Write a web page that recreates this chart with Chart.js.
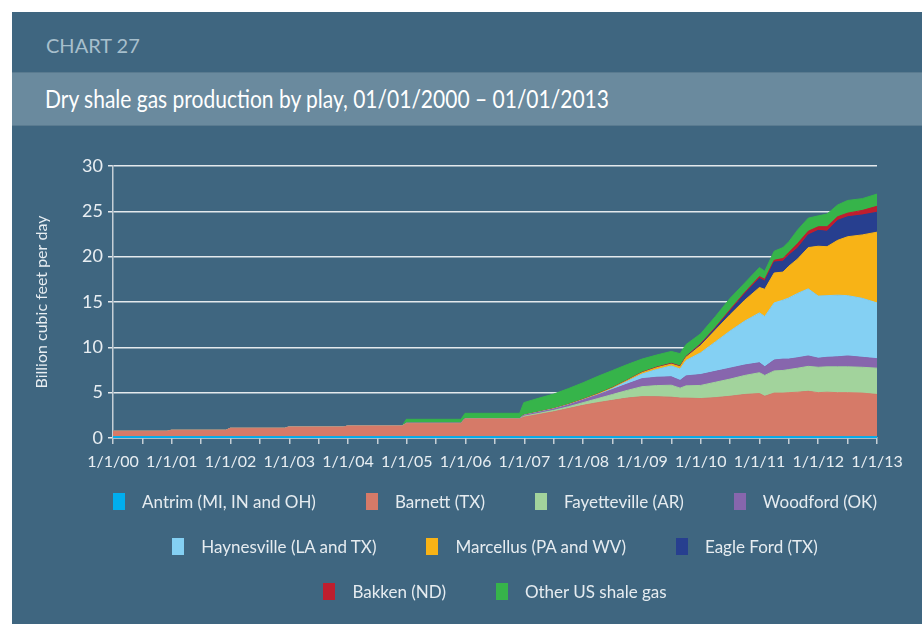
<!DOCTYPE html>
<html lang="en">
<head>
<meta charset="UTF-8">
<title>Chart 27</title>
<script src="https://cdn.jsdelivr.net/npm/chart.js@4"></script>
<style>
  body { margin: 0; background: #ffffff; font-family: Lato, "Open Sans", sans-serif; }
  #panel { position: absolute; left: 12px; top: 12px; width: 910px; height: 612px; background: #3f6680; overflow: hidden; }
  #chart-no { position: absolute; left: 34px; top: 21px; font-size: 20px; color: #a7bfcc; }
  #title-band { position: absolute; left: 0; top: 60px; width: 910px; height: 52px; background: #6a8a9e;
                border-top: 1px solid #5a7b90; border-bottom: 1px solid #5a7b90; }
  #title-band span { position: absolute; left: 33px; top: 10px; font-size: 25px; color: #ffffff;
                     white-space: nowrap; transform: scaleX(0.84); transform-origin: left center; }
  #chart-box { position: absolute; left: 0; top: 118px; width: 910px; height: 350px; }
  #legend { position: absolute; left: 0; top: 467px; width: 966px; }
  .row { display: flex; justify-content: center; height: 45px; align-items: center; }
  .item { display: flex; align-items: center; margin: 0 25px; font-size: 17px; color: #e6ecf0; }
  .swatch { width: 12px; height: 17px; margin-right: 17px; }
</style>
</head>
<body>
<div id="panel">
  <div id="chart-no">CHART 27</div>
  <div id="title-band"><span>Dry shale gas production by play, 01/01/2000 – 01/01/2013</span></div>
  <div id="chart-box"><canvas id="gas-chart"></canvas></div>
  <div id="legend"></div>
</div>
<script>
// years since 1/1/2000
var years = [0, 0.92, 0.99, 1.92, 1.99, 2.92, 2.99, 3.92, 3.99, 4.92, 4.99, 5.92, 5.99, 6.92, 6.99,
  7.25, 7.5, 7.75, 8.0, 8.25, 8.5, 8.75, 9.0, 9.25, 9.5, 9.65, 9.75, 10.0, 10.25, 10.5, 10.75,
  11.0, 11.09, 11.25, 11.4, 11.5, 11.65, 11.83, 12.0, 12.15, 12.33, 12.5, 12.75, 13.0];

var plays = ['Antrim (MI, IN and OH)', 'Barnett (TX)', 'Fayetteville (AR)', 'Woodford (OK)',
  'Haynesville (LA and TX)', 'Marcellus (PA and WV)', 'Eagle Ford (TX)', 'Bakken (ND)', 'Other US shale gas'];
var colors = ['#00aeef', '#d67a68', '#a2d39c', '#8766ad', '#84d0f3', '#f8b316', '#273f8f', '#bf1e2e', '#36b44a'];

// billion cubic feet per day
var antrim = [0.15, 0.15, 0.15, 0.15, 0.15, 0.15, 0.15, 0.15, 0.15, 0.15, 0.15, 0.15, 0.15, 0.15, 0.15,
  0.15, 0.15, 0.15, 0.15, 0.15, 0.15, 0.15, 0.15, 0.15, 0.15, 0.15, 0.15, 0.15, 0.15, 0.15, 0.15,
  0.15, 0.15, 0.15, 0.15, 0.15, 0.15, 0.15, 0.15, 0.15, 0.15, 0.15, 0.15, 0.15];
var barnett = [0.59, 0.59, 0.70, 0.70, 0.92, 0.92, 1.06, 1.06, 1.17, 1.17, 1.43, 1.43, 1.95, 1.95, 2.15,
  2.45, 2.75, 3.1, 3.45, 3.75, 4.0, 4.25, 4.41, 4.4, 4.35, 4.25, 4.25, 4.2, 4.3, 4.45, 4.65,
  4.75, 4.45, 4.8, 4.8, 4.85, 4.9, 5.0, 4.85, 4.9, 4.85, 4.85, 4.8, 4.65];
var fayetteville = [0, 0, 0, 0, 0, 0, 0, 0, 0, 0, 0, 0, 0, 0, 0.10,
  0.12, 0.15, 0.2, 0.3, 0.45, 0.65, 0.85, 1.1, 1.23, 1.32, 1.1, 1.35, 1.45, 1.7, 1.9, 2.1,
  2.3, 2.3, 2.45, 2.5, 2.55, 2.65, 2.75, 2.8, 2.8, 2.85, 2.85, 2.85, 2.9];
var woodford = [0, 0, 0, 0, 0, 0, 0, 0, 0, 0, 0.05, 0.05, 0.05, 0.05, 0.10,
  0.13, 0.15, 0.2, 0.3, 0.4, 0.55, 0.7, 0.88, 0.92, 0.93, 0.85, 1.1, 1.2, 1.2, 1.2, 1.15,
  1.1, 0.95, 1.2, 1.25, 1.15, 1.15, 1.15, 1.0, 1.05, 1.1, 1.2, 1.1, 1.05];
var haynesville = [0, 0, 0, 0, 0, 0, 0, 0, 0, 0, 0, 0, 0, 0, 0,
  0, 0, 0, 0, 0.02, 0.1, 0.3, 0.51, 0.85, 1.2, 1.25, 1.7, 2.4, 3.25, 4.1, 4.85,
  5.5, 5.55, 6.3, 6.5, 6.75, 7.1, 7.4, 6.85, 6.8, 6.8, 6.65, 6.5, 6.15];
var marcellus = [0, 0, 0, 0, 0, 0, 0, 0, 0, 0, 0, 0, 0, 0, 0.02,
  0.03, 0.04, 0.05, 0.06, 0.08, 0.08, 0.1, 0.15, 0.2, 0.2, 0.25, 0.35, 0.8, 1.3, 1.8, 2.3,
  2.8, 3.0, 3.3, 3.1, 3.5, 3.8, 4.55, 5.5, 5.4, 6.05, 6.5, 7.0, 7.8];
var eagleFord = [0, 0, 0, 0, 0, 0, 0, 0, 0, 0, 0, 0, 0, 0, 0,
  0, 0, 0, 0, 0, 0, 0, 0, 0.01, 0.02, 0.02, 0.03, 0.1, 0.2, 0.4, 0.7,
  1.0, 0.9, 1.2, 1.2, 1.2, 1.2, 1.4, 1.75, 1.7, 2.2, 2.2, 2.2, 2.2];
var bakken = [0, 0, 0, 0, 0, 0, 0, 0, 0, 0, 0, 0, 0, 0, 0,
  0, 0, 0.01, 0.02, 0.03, 0.04, 0.04, 0.05, 0.06, 0.07, 0.07, 0.07, 0.1, 0.1, 0.15, 0.15,
  0.2, 0.2, 0.2, 0.3, 0.3, 0.5, 0.4, 0.4, 0.5, 0.4, 0.4, 0.5, 0.65];
var otherShale = [0, 0, 0, 0, 0, 0, 0, 0, 0, 0, 0.43, 0.43, 0.57, 0.57, 1.38,
  1.52, 1.61, 1.74, 1.82, 1.92, 1.88, 1.71, 1.45, 1.33, 1.31, 1.36, 1.3, 1.1, 1.2, 1.25, 1.05,
  1.0, 0.9, 1.0, 1.2, 1.2, 1.5, 1.45, 1.2, 1.4, 1.3, 1.4, 1.3, 1.35];

var yTicks = [0, 5, 10, 15, 20, 25, 30];
var legendRows = [[0, 1, 2, 3], [4, 5, 6], [7, 8]];

var series = [antrim, barnett, fayetteville, woodford, haynesville, marcellus, eagleFord, bakken, otherShale];

var datasets = series.map(function(values, i) {
  return {
    label: plays[i],
    data: years.map(function(x, j) { return { x: x, y: values[j] }; }),
    backgroundColor: colors[i],
    borderColor: colors[i],
    borderWidth: 1,
    pointRadius: 0,
    tension: 0,
    fill: i === 0 ? 'origin' : '-1'
  };
});

var fontFamily = 'Lato, "Open Sans", sans-serif';

new Chart(document.getElementById('gas-chart'), {
  type: 'line',
  data: { datasets: datasets },
  options: {
    responsive: true,
    maintainAspectRatio: false,
    animation: false,
    layout: { padding: { left: 0, top: 36, right: 45, bottom: 0 } },
    plugins: { legend: { display: false }, tooltip: { enabled: false } },
    scales: {
      x: {
        type: 'linear',
        min: 0,
        max: 13,
        afterFit: function(scale) { scale.height = 42; },
        grid: { drawOnChartArea: false, drawTicks: true, tickLength: 6, color: '#c5cfd6', lineWidth: 1.5 },
        border: { display: true, color: '#c5cfd6', width: 1.5 },
        ticks: {
          stepSize: 0.5,
          autoSkip: false,
          maxRotation: 0,
          padding: 8,
          color: '#e8eef2',
          font: { family: fontFamily, size: 16 },
          callback: function(v) {
            return Number.isInteger(v) ? '1/1/' + String(v).padStart(2, '0') : '';
          }
        }
      },
      y: {
        stacked: true,
        min: 0,
        max: 30,
        afterFit: function(scale) { scale.width = 101; },
        afterBuildTicks: function(scale) { scale.ticks = yTicks.map(function(v) { return { value: v }; }); },
        grid: { color: '#e4e9ed', lineWidth: 1.5, tickLength: 5 },
        border: { display: true, color: '#c5cfd6', width: 1.5 },
        ticks: { padding: 5, color: '#e8eef2', font: { family: fontFamily, size: 18 } },
        title: {
          display: true,
          text: 'Billion cubic feet per day',
          color: '#e8eef2',
          font: { family: fontFamily, size: 16 },
          padding: { top: 20, bottom: 0 }
        }
      }
    }
  }
});

// legend in three centred rows
var legend = document.getElementById('legend');
legendRows.forEach(function(row) {
  var div = document.createElement('div');
  div.className = 'row';
  row.forEach(function(i) {
    var item = document.createElement('div');
    item.className = 'item';
    var sw = document.createElement('span');
    sw.className = 'swatch';
    sw.style.background = colors[i];
    var txt = document.createElement('span');
    txt.textContent = plays[i];
    item.appendChild(sw);
    item.appendChild(txt);
    div.appendChild(item);
  });
  legend.appendChild(div);
});
</script>
</body>
</html>
